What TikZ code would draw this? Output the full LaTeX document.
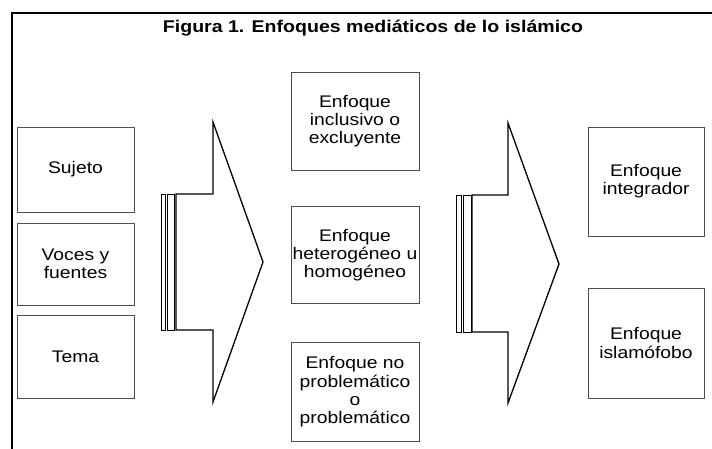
\documentclass[tikz,border=0pt]{standalone}
\usepackage{fontspec}
\setmainfont{Liberation Sans}[FakeStretch=1.15]
\usetikzlibrary{positioning}

\begin{document}
\begin{tikzpicture}[x=1pt, y=-1pt,
	box/.style={draw=black!70, line width=0.8pt, align=center, inner sep=0pt, font=\fontsize{16.8}{18.3}\selectfont},
	flecha/.style={draw=black, line width=1.3pt, line join=miter},
	barra/.style={draw=black, line width=0.9pt}]
	\useasboundingbox (0,0) rectangle (712,448);
	\draw[line width=1.6pt] (12,13) rectangle (730,470);
	\node[font=\bfseries\fontsize{17}{18}\selectfont] (titulo) at (373,28) {Figura 1. Enfoques mediáticos de lo islámico};
	% columna izquierda
	\node[box, minimum width=117, minimum height=85] (sujeto) at (75.5,169.5) {Sujeto};
	\node[box, minimum width=117, minimum height=82] (voces) at (75.5,264) {Voces y\\fuentes};
	\node[box, minimum width=117, minimum height=83] (tema) at (75.5,356.5) {Tema};
	% primera flecha
	\draw[barra] (161,194) rectangle (165,330);
	\draw[barra] (167,194) rectangle (174,330);
	\draw[flecha] (176,194) -- (213,194) -- (213,122) -- (263,262) -- (213,402) -- (213,330) -- (176,330) -- cycle;
	% columna central
	\node[box, minimum width=128, minimum height=98] (inclusivo) at (355,121) {Enfoque\\inclusivo o\\excluyente};
	\node[box, minimum width=128, minimum height=97] (heterogeneo) at (355,255) {Enfoque\\heterogéneo u\\homogéneo};
	\node[box, minimum width=128, minimum height=99] (problematico) at (355,392) {Enfoque no\\problemático\\o\\problemático};
	% segunda flecha
	\draw[barra] (456,195) rectangle (461,332);
	\draw[barra] (463,195) rectangle (471,332);
	\draw[flecha] (472,195) -- (508,195) -- (508,123) -- (559,264) -- (508,403) -- (508,332) -- (472,332) -- cycle;
	% columna derecha
	\node[box, minimum width=116, minimum height=109] (integrador) at (646,181.5) {Enfoque\\integrador};
	\node[box, minimum width=116, minimum height=110] (islamofobo) at (646,343) {Enfoque\\islamófobo};
\end{tikzpicture}
\end{document}
